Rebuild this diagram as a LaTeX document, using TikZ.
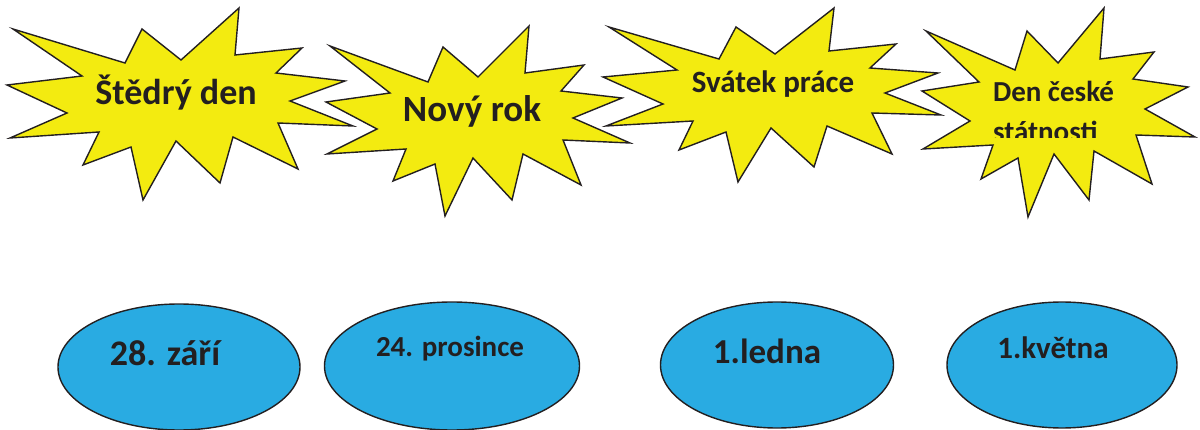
\documentclass[tikz,border=0pt]{standalone}
\usepackage{fontspec}
\setmainfont{Carlito}
\usetikzlibrary{shapes.geometric}
\definecolor{burstyellow}{RGB}{243,235,16}
\definecolor{ovalblue}{RGB}{41,171,226}
\definecolor{outline}{RGB}{35,31,32}
\definecolor{textdark}{RGB}{35,31,32}
\begin{document}
\begin{tikzpicture}[x=1pt,y=-1pt,
  burst/.style={fill=burstyellow,draw=outline,line width=1.4pt,line join=miter},
  oval/.style={ellipse,fill=ovalblue,draw=outline,line width=1.4pt,inner sep=0pt,outer sep=0pt},
  lbl/.style={text=textdark,font=\bfseries\fontsize{#1}{#1}\selectfont,inner sep=0pt,outer sep=0pt}]
\useasboundingbox (0,0) rectangle (1200,430);
% starbursts
\filldraw[burst] (13,29) -- (125,63) -- (142,29) -- (181,60) -- (239,8) -- (235,55) -- (302,48) -- (276,73) -- (345,81) -- (290,101) -- (353,126) -- (278,123) -- (298,169) -- (233,137) -- (220,183) -- (176,141) -- (143,200) -- (131,147) -- (83,165) -- (99,132) -- (10,138) -- (67,113) -- (7,85) -- (82,76) -- cycle;
\filldraw[burst] (330,46) -- (428,82) -- (443,47) -- (478,77) -- (529,26) -- (525,73) -- (584,65) -- (561,91) -- (622,98) -- (573,118) -- (630,143) -- (563,140) -- (581,185) -- (523,154) -- (512,200) -- (473,158) -- (445,216) -- (435,164) -- (393,181) -- (406,149) -- (327,154) -- (377,129) -- (326,102) -- (390,93) -- cycle;
\filldraw[burst] (609,27) -- (719,59) -- (736,27) -- (775,54) -- (834,8) -- (829,51) -- (896,44) -- (870,68) -- (938,73) -- (885,93) -- (941,115) -- (872,113) -- (892,154) -- (827,126) -- (814,167) -- (771,128) -- (738,182) -- (726,132) -- (679,150) -- (693,121) -- (606,126) -- (663,104) -- (603,77) -- (677,70) -- cycle;
\filldraw[burst] (926,31) -- (1015,70) -- (1027,31) -- (1058,63) -- (1104,8) -- (1100,59) -- (1154,52) -- (1133,79) -- (1188,87) -- (1145,109) -- (1195,137) -- (1136,135) -- (1152,184) -- (1094,151) -- (1089,200) -- (1054,154) -- (1028,217) -- (1018,158) -- (981,179) -- (993,145) -- (923,149) -- (970,121) -- (922,91) -- (979,82) -- cycle;
% star labels
\node[lbl=36,anchor=base] (t1) at (176,105) {Štědrý den};
\node[lbl=37,anchor=base] (t2) at (472,122) {Nový rok};
\node[lbl=31,anchor=base] (t3) at (773,93) {Svátek práce};
\node[lbl=29,anchor=base west] (t4a) at (993,102) {Den české};
\begin{scope}
\clip (900,0) rectangle (1200,138);
\node[lbl=29,anchor=base west] (t4b) at (993,142) {státnosti};
\end{scope}
% ovals
\node[oval,minimum width=242pt,minimum height=126pt] (o1) at (179,367) {};
\node[oval,minimum width=255pt,minimum height=128pt] (o2) at (452,366) {};
\node[oval,minimum width=233pt,minimum height=126pt] (o3) at (777,365) {};
\node[oval,minimum width=230pt,minimum height=126pt] (o4) at (1062,365) {};
\node[lbl=36,anchor=base] (d1) at (165,366) {28. září};
\node[lbl=29,anchor=base] (d2) at (450,357) {24. prosince};
\node[lbl=35,anchor=base] (d3) at (767,364) {1.ledna};
\node[lbl=31,anchor=base] (d4) at (1053,359) {1.května};
\end{tikzpicture}
\end{document}
